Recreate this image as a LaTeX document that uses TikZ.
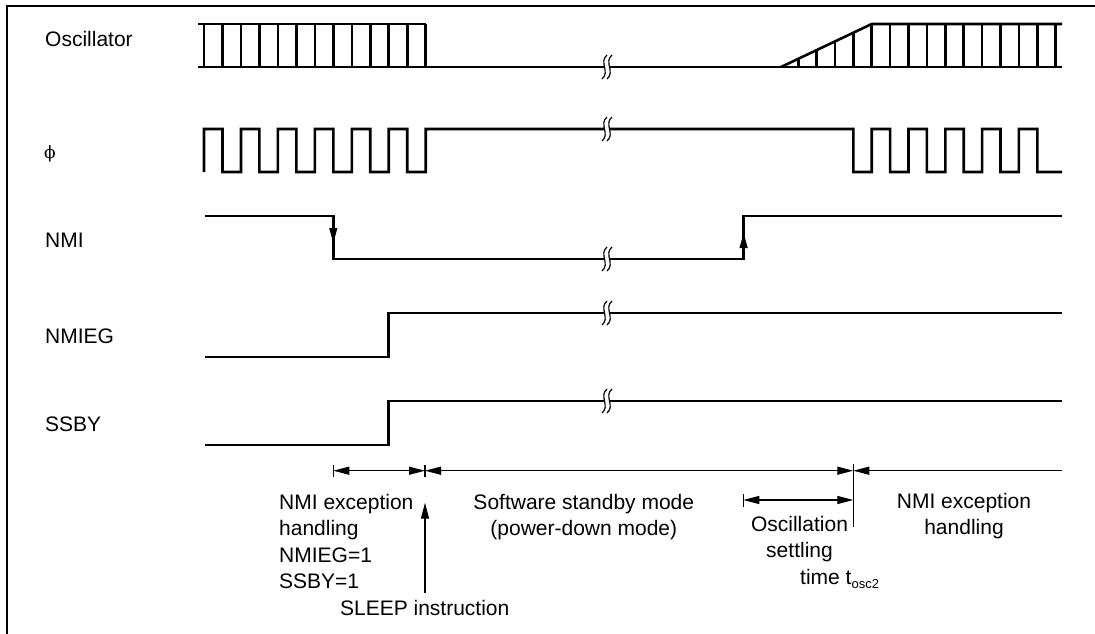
\documentclass[tikz,border=0pt]{standalone}
\usepackage{fontspec}
\setmainfont{Liberation Sans}
\newfontfamily\phifont{DejaVu Serif}
\usetikzlibrary{arrows.meta}
\newcommand\mlines[2]{\begin{tabular}[t]{@{}#1@{}}#2\end{tabular}}
\begin{document}
\begin{tikzpicture}[x=1pt,y=-1pt,
  sig/.style={line width=2.6pt},
  dim/.style={line width=1.3pt},
  >={Triangle[length=16pt,width=8pt]},
  edgetip/.style={-{Triangle[length=15pt,width=8pt]}},
  lbl/.style={inner sep=0pt, font=\fontsize{21}{26.5}\selectfont},
  brkpic/.pic={
    \fill[white] (-0.8,-2.2) rectangle (5.8,2.2);
    \draw[line width=1.2pt] (2.5,-12) .. controls (-6,-5) and (6,5) .. (-2.5,12);
    \draw[line width=1.2pt] (7.5,-12) .. controls (-1,-5) and (11,5) .. (2.5,12);
  }]
\useasboundingbox (0,0) rectangle (1095,633);
% frame
\draw[line width=2.2pt] (7,640) -- (7,6) -- (1100,6);

% signal labels
\node[lbl,anchor=west] (lOsc) at (45,39) {Oscillator};
\node[lbl,anchor=west] (lPhi) at (44,154) {\phifont\fontsize{17}{17}\selectfont ϕ};
\node[lbl,anchor=west] (lNMI) at (45,240) {NMI};
\node[lbl,anchor=west] (lNMIEG) at (45,336) {NMIEG};
\node[lbl,anchor=west] (lSSBY) at (45,424) {SSBY};

% Oscillator
\draw[sig] (198,24) -- (425.7,24);
\draw[sig] (198,67) -- (1062,67);
\foreach \k in {0,...,12} \draw[sig] ({204+18.475*\k},24) -- ({204+18.475*\k},67);
\draw[sig] (781,67) -- (871.7,24) -- (1062,24);
\foreach \x in {798.3,816.7,835,853.3} \draw[sig] (\x,67) -- (\x,{67-43*(\x-781)/90.7});
\foreach \k in {0,...,10} \draw[sig] ({871.7+18.4*\k},24) -- ({871.7+18.4*\k},67);

% phi
\draw[sig] (204,172)
  foreach \k in {0,...,5} { -- ({204+36.95*\k},129) -- ({222.475+36.95*\k},129) -- ({222.475+36.95*\k},172) -- ({240.95+36.95*\k},172) }
  -- (425.7,129) -- (853.3,129) -- (853.3,172)
  foreach \k in {0,...,4} { -- ({871.7+36.8*\k},172) -- ({871.7+36.8*\k},129) -- ({890.1+36.8*\k},129) -- ({890.1+36.8*\k},172) }
  -- (1062,172);

% NMI
\draw[sig] (205,216) -- (333.3,216) -- (333.3,259) -- (743.6,259) -- (743.6,216) -- (1062,216);
\draw[line width=1pt,edgetip] (333.3,224) -- (333.3,243);
\draw[line width=1pt,edgetip] (743.6,253) -- (743.6,233);

% NMIEG
\draw[sig] (205,357) -- (388.3,357) -- (388.3,313) -- (1062,313);
% SSBY
\draw[sig] (205,445) -- (388.3,445) -- (388.3,401) -- (1062,401);

% break marks
\foreach \y in {67,129,259,313,401} \pic at (604.5,\y) {brkpic};

% dimension lines
\coordinate (d0) at (333.3,470.7);
\coordinate (d1) at (425,470.7);
\coordinate (d2) at (853.3,470.7);
\coordinate (d3) at (1062,470.7);
\draw[dim] (333.3,465) -- (333.3,477);
\draw[dim] (425,465) -- (425,477);
\draw[dim] (853.3,464) -- (853.3,527.3);
\draw[dim,<->] (d0) -- (d1);
\draw[dim,<->] (d1) -- (d2);
\draw[dim,<-] (d2) -- (d3);

\coordinate (s0) at (743.3,500);
\coordinate (s1) at (853.3,500);
\draw[dim] (743.3,494) -- (743.3,507);
\draw[dim,<->] (s0) -- (s1);

\coordinate (sleepBase) at (425,592.7);
\coordinate (sleepTip) at (425,502.7);
\draw[dim,->] (sleepBase) -- (sleepTip);

% bottom texts
\node[lbl,anchor=base west] (tNmiA) at (279,509) {\mlines{l}{NMI exception\\handling\\NMIEG=1\\SSBY=1}};
\node[lbl,anchor=base] (tSleep) at (424.7,615) {SLEEP instruction};
\node[lbl,anchor=base] (tSoft) at (583.8,509) {\mlines{c}{Software standby mode\\(power-down mode)}};
\node[lbl,anchor=base] (tOsc) at (799.5,531) {\mlines{c}{Oscillation\\settling}};
\node[lbl,anchor=base west] (tTime) at (800,584) {time t\raisebox{-4pt}{\fontsize{13}{13}\selectfont osc2}};
\node[lbl,anchor=base] (tNmiB) at (964,508) {\mlines{c}{NMI exception\\handling}};
\end{tikzpicture}
\end{document}
